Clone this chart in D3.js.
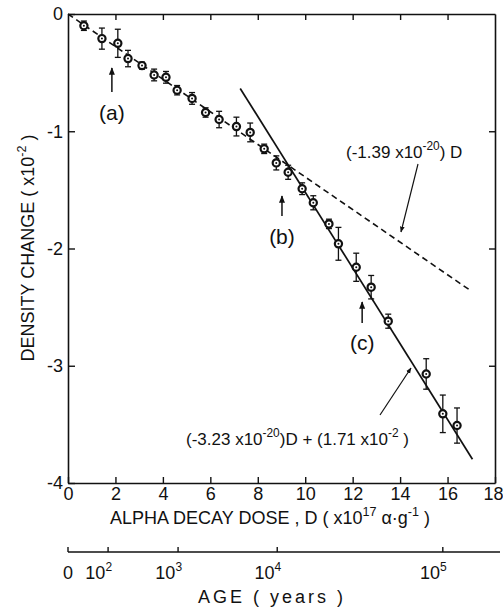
<!DOCTYPE html>
<html>
<head>
<meta charset="utf-8">
<script src="https://cdn.jsdelivr.net/npm/d3@7"></script>
<style>
  body { margin: 0; background: #fff; }
  svg text { font-family: "Liberation Sans", Arial, sans-serif; fill: #111; }
</style>
</head>
<body>
<div id="chart"></div>
<script>
// measured points: dose (x10^17 a/g), density change (x10^-2), error half-width
var dose    = [0.67, 1.43, 2.1, 2.53, 3.12, 3.63, 4.13, 4.6, 5.23, 5.8, 6.37, 7.1, 7.68, 8.27, 8.78, 9.28, 9.87, 10.34, 11.0, 11.4, 12.15, 12.78, 13.5, 15.1, 15.8, 16.4];
var density = [-0.10, -0.21, -0.25, -0.38, -0.44, -0.52, -0.54, -0.65, -0.72, -0.84, -0.90, -0.96, -1.01, -1.15, -1.27, -1.35, -1.49, -1.61, -1.79, -1.96, -2.16, -2.33, -2.62, -3.07, -3.41, -3.51];
var errBar  = [0.04, 0.09, 0.12, 0.07, 0.03, 0.05, 0.05, 0.04, 0.05, 0.04, 0.07, 0.08, 0.08, 0.04, 0.06, 0.06, 0.05, 0.06, 0.04, 0.14, 0.12, 0.10, 0.06, 0.13, 0.16, 0.15];

// fitted lines (coefficients in plot units)
var dashedFit = {slope: -0.139, intercept: 0, from: 0, to: 16.95};
var solidFit  = {slope: -0.323, intercept: 1.71, from: 7.26, to: 17.05};

var doseTicks = [0, 2, 4, 6, 8, 10, 12, 14, 16, 18];
var densityTicks = [0, -1, -2, -3, -4];
// age scale: dose position of each age tick
var ageTickDose = [0, 1.69, 4.64, 8.82, 15.8];
var ageTickExp  = [null, 2, 3, 4, 5];

var svg = d3.select("#chart").append("svg")
    .attr("width", 503)
    .attr("height", 608);

var x = d3.scaleLinear().domain([0, 18]).range([68, 495]);
var y = d3.scaleLinear().domain([-4, 0]).range([483, 14]);

function styleAxis(g) {
    g.select(".domain").attr("stroke", "#111").attr("stroke-width", 1.6);
    g.selectAll(".tick line").attr("stroke", "#111").attr("stroke-width", 1.4);
    g.selectAll(".tick text").attr("font-size", 18).attr("fill", "#111")
        .attr("font-family", "Liberation Sans, Arial, sans-serif");
}

// frame axes
svg.append("g").attr("transform", "translate(0,483)")
    .call(d3.axisBottom(x).tickValues(doseTicks).tickSize(-6).tickSizeOuter(0).tickPadding(4))
    .call(styleAxis)
    .selectAll(".tick text").filter(function (d) { return d === 18; })
    .attr("text-anchor", "end").attr("dx", 8);
svg.append("g").attr("transform", "translate(0,14)")
    .call(d3.axisTop(x).tickValues(doseTicks.slice(1, -1)).tickSize(-6).tickSizeOuter(0).tickFormat(""))
    .call(styleAxis);
svg.append("g").attr("transform", "translate(68,0)")
    .call(d3.axisLeft(y).tickValues(densityTicks).tickSize(-7).tickSizeOuter(0).tickPadding(5)
        .tickFormat(function (d) { return d === 0 ? "0" : "-" + Math.abs(d); }))
    .call(styleAxis);
svg.append("g").attr("transform", "translate(495,0)")
    .call(d3.axisRight(y).tickValues(densityTicks.slice(1, -1)).tickSize(-6).tickSizeOuter(0).tickFormat(""))
    .call(styleAxis);

// fitted lines
function fitLine(f) {
    return d3.line()([[x(f.from), y(f.slope * f.from + f.intercept)], [x(f.to), y(f.slope * f.to + f.intercept)]]);
}
svg.append("path").attr("d", fitLine(dashedFit))
    .attr("stroke", "#111").attr("stroke-width", 1.6).attr("stroke-dasharray", "6,4").attr("fill", "none");
svg.append("path").attr("d", fitLine(solidFit))
    .attr("stroke", "#111").attr("stroke-width", 1.7).attr("fill", "none");

// error bars
var pts = dose.map(function (d, i) { return {d: d, v: density[i], e: errBar[i]}; });
var eb = svg.append("g").attr("stroke", "#111").attr("stroke-width", 1.3);
pts.forEach(function (p) {
    eb.append("line").attr("x1", x(p.d)).attr("x2", x(p.d)).attr("y1", y(p.v + p.e)).attr("y2", y(p.v - p.e));
    eb.append("line").attr("x1", x(p.d) - 3).attr("x2", x(p.d) + 3).attr("y1", y(p.v + p.e)).attr("y2", y(p.v + p.e));
    eb.append("line").attr("x1", x(p.d) - 3).attr("x2", x(p.d) + 3).attr("y1", y(p.v - p.e)).attr("y2", y(p.v - p.e));
});

// markers
svg.append("g").selectAll("circle")
    .data(pts).enter().append("circle")
    .attr("cx", function (p) { return x(p.d); })
    .attr("cy", function (p) { return y(p.v); })
    .attr("r", 3.6)
    .attr("fill", "#fff").attr("stroke", "#111").attr("stroke-width", 2.2);
svg.append("g").selectAll("circle")
    .data(pts).enter().append("circle")
    .attr("cx", function (p) { return x(p.d); })
    .attr("cy", function (p) { return y(p.v); })
    .attr("r", 1).attr("fill", "#111");

// arrow marker
var defs = svg.append("defs");
defs.append("marker").attr("id", "arr").attr("viewBox", "0 0 10 10")
    .attr("refX", 9).attr("refY", 5).attr("markerWidth", 5).attr("markerHeight", 5)
    .attr("orient", "auto")
    .append("path").attr("d", "M0,1 L10,5 L0,9 Z").attr("fill", "#111");

function arrow(x1, y1, x2, y2, w) {
    svg.append("line").attr("x1", x1).attr("y1", y1).attr("x2", x2).attr("y2", y2)
        .attr("stroke", "#111").attr("stroke-width", w || 1.3).attr("marker-end", "url(#arr)");
}

// (a) (b) (c) markers
var labels = [
    {t: "(a)", d: 1.85, top: 68, bot: 92, ty: 120},
    {t: "(b)", d: 9.02, top: 196, bot: 216, ty: 244},
    {t: "(c)", d: 12.4, top: 302, bot: 323, ty: 350}
];
labels.forEach(function (l) {
    arrow(x(l.d), l.bot, x(l.d), l.top, 1.5);
    svg.append("text").attr("x", x(l.d)).attr("y", l.ty)
        .attr("text-anchor", "middle").attr("font-size", 21).text(l.t);
});

// text with superscripts: parts are strings or {s: "..."}
function supText(xp, yp, parts, size) {
    var t = svg.append("text").attr("x", xp).attr("y", yp).attr("font-size", size);
    var shift = 0;
    parts.forEach(function (p) {
        if (typeof p === "string") {
            var ts = t.append("tspan").text(p);
            if (shift) ts.attr("dy", -shift);
            shift = 0;
        } else {
            t.append("tspan").attr("dy", -8).attr("font-size", size * 0.7).text(p.s);
            shift = -8;
        }
    });
    return t;
}
supText(346, 158, ["(-1.39 x10", {s: "-20"}, ") D"], 17);
arrow(418, 164, 401, 232, 1.2);

supText(186, 445, ["(-3.23 x10", {s: "-20"}, ")D + (1.71 x10", {s: "-2"}, " )"], 17);
arrow(380, 415, 411, 368, 1.2);

// axis titles
supText(110, 524, ["ALPHA DECAY DOSE , D ( x10", {s: "17"}, "  α·g", {s: "-1"}, " )"], 18);

var yt = supText(0, 0, ["DENSITY  CHANGE ( x10", {s: "-2"}, " )"], 18);
yt.attr("x", null).attr("y", null)
    .attr("transform", "translate(34,248) rotate(-90)").attr("text-anchor", "middle");

// age axis
var ageG = svg.append("g").attr("transform", "translate(0,552)");
ageG.append("line").attr("x1", 68).attr("x2", 500).attr("stroke", "#111").attr("stroke-width", 1.6);
ageTickDose.forEach(function (d, i) {
    ageG.append("line").attr("x1", x(d)).attr("x2", x(d)).attr("y1", 0).attr("y2", -5)
        .attr("stroke", "#111").attr("stroke-width", 1.4);
    var t = ageG.append("text").attr("x", x(d)).attr("y", 27).attr("font-size", 18);
    if (ageTickExp[i] === null) {
        t.attr("text-anchor", "middle").text("0");
    } else {
        t.attr("text-anchor", "end").attr("dx", 4);
        t.append("tspan").text("10");
        t.append("tspan").attr("dy", -8).attr("font-size", 12).text(ageTickExp[i]);
    }
});
svg.append("text").attr("x", 272).attr("y", 603).attr("text-anchor", "middle")
    .attr("font-size", 18).attr("letter-spacing", 3).text("AGE  ( years )");
</script>
</body>
</html>
